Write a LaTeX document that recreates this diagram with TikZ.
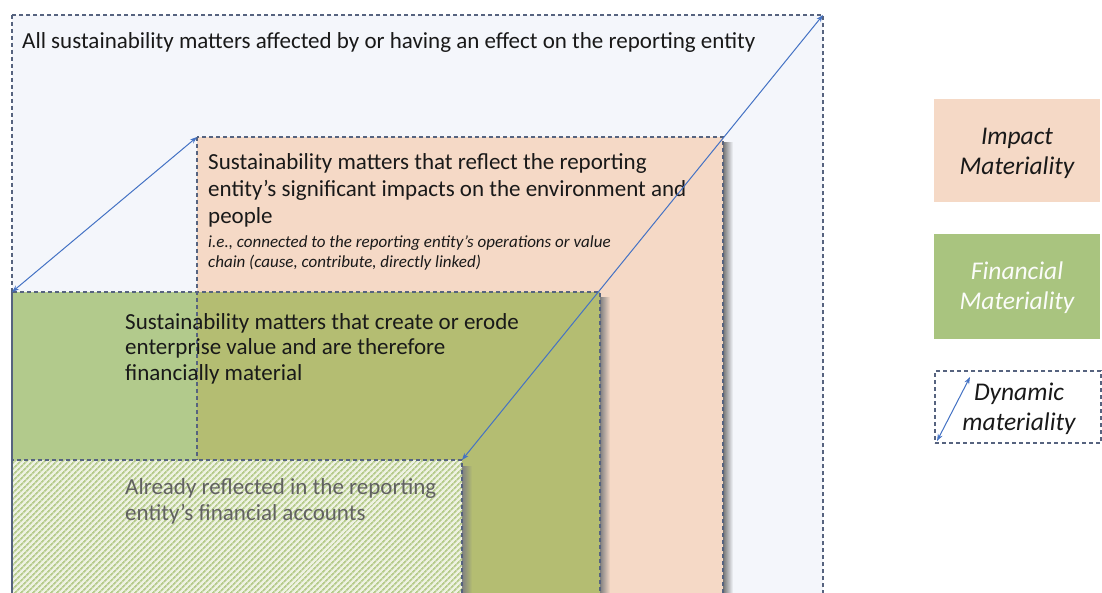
\documentclass[tikz,border=0pt]{standalone}
\usepackage{fontspec}
\setmainfont{Carlito}
\usetikzlibrary{arrows.meta,patterns.meta,positioning}
\definecolor{allbg}{HTML}{F4F6FB}
\definecolor{impact}{HTML}{F5D9C6}
\definecolor{finlight}{HTML}{B2CA8C}
\definecolor{findark}{HTML}{B4BD72}
\definecolor{finleg}{HTML}{A9C47F}
\definecolor{hatchbg}{HTML}{EEF2E2}
\definecolor{hatchgreen}{HTML}{B6CB8C}
\definecolor{edge}{HTML}{56637F}
\definecolor{dynblue}{HTML}{4472C4}
\tikzset{>=Stealth,
  dashbox/.style={draw=edge, line width=1.2pt, dash pattern=on 4pt off 3pt},
  dyn/.style={<->, draw=dynblue, line width=1pt, >={Stealth[length=7pt,width=5pt]}},
  txt/.style={anchor=base west, align=left, inner sep=0pt, text=black!90},
  legbox/.style={minimum width=166pt, inner sep=0pt, align=center,
    font=\fontsize{25.5}{30}\selectfont\itshape},
}

\begin{document}
\begin{tikzpicture}[x=1pt,y=-1pt]
	\useasboundingbox (0,0) rectangle (1102,593);
	\clip (0,0) rectangle (1102,593);
	% corners of the nested areas
	\coordinate (alltr) at (823,15);
	\coordinate (imptl) at (197,137);
	\coordinate (fintl) at (12,292);
	\coordinate (acctr) at (462,460);
	% all matters
	\fill[allbg] (12,15) rectangle (823,620);
	% impact materiality
	\shade[left color=black!55, right color=allbg] (723,143) rectangle (733,620);
	\fill[impact] (imptl) rectangle (723,620);
	% financial materiality
	\shade[left color=black!50, right color=impact] (600,298) rectangle (610,620);
	\fill[finlight] (fintl) rectangle (197,620);
	\fill[findark] (197,292) rectangle (600,620);
	\draw[dashbox] (imptl) rectangle (723,620);
	\draw[dashbox] (fintl) rectangle (600,620);
	% already in the accounts
	\shade[left color=black!50, right color=findark] (462,466) rectangle (472,620);
	\fill[hatchbg] (12,460) rectangle (462,620);
	\fill[pattern={Lines[angle=45,distance=4pt,line width=1.8pt]}, pattern color=hatchgreen]
		(12,460) rectangle (462,620);
	\draw[dashbox] (12,460) rectangle (462,620);
	\draw[dashbox] (12,15) rectangle (823,620);

	% texts, placed at the baseline of their last line
	\node[txt, font=\fontsize{23}{27}\selectfont] (alltxt) at (22,49)
		{All sustainability matters affected by or having an effect on the reporting entity};
	\node[txt, font=\fontsize{23}{27}\selectfont] (imptxt) at (208,224)
		{Sustainability matters that reflect the reporting\\entity’s significant impacts on the environment and\\people};
	\node[txt, font=\fontsize{17}{20}\selectfont\itshape] (impnote) at (208,268)
		{i.e., connected to the reporting entity’s operations or value\\chain (cause, contribute, directly linked)};
	\node[txt, font=\fontsize{23}{25.5}\selectfont] (fintxt) at (125,380)
		{Sustainability matters that create or erode\\enterprise value and are therefore\\financially material};
	\node[txt, text=black!62, font=\fontsize{23}{26}\selectfont] (acctxt) at (125,520)
		{Already reflected in the reporting\\entity’s financial accounts};

	\draw[dyn] (fintl) -- (imptl);
	\draw[dyn] (acctr) -- (alltr);

	% legend
	\node[legbox, fill=impact, minimum height=103pt] (legimp) at (1017,150.5)
		{};
	\node[legbox, text=black!90] (legimptxt) at (1017,153.5) {Impact\\Materiality};
	\node[legbox, fill=finleg, minimum height=105pt] (legfin) at (1017,286.5) {};
	\node[legbox, text=white!95!finleg] (legfintxt) at (1017,287.5) {Financial\\Materiality};
	\node[legbox, dashbox, fill=white, minimum height=72pt] (legdyn) at (1018,407) {};
	\node[legbox, text=black!90] (legdyntxt) at (1019,408.5) {Dynamic\\materiality};
	\coordinate (dyna) at (937,441);
	\coordinate (dynb) at (970,377);
	\draw[dyn] (dyna) -- (dynb);
\end{tikzpicture}
\end{document}
